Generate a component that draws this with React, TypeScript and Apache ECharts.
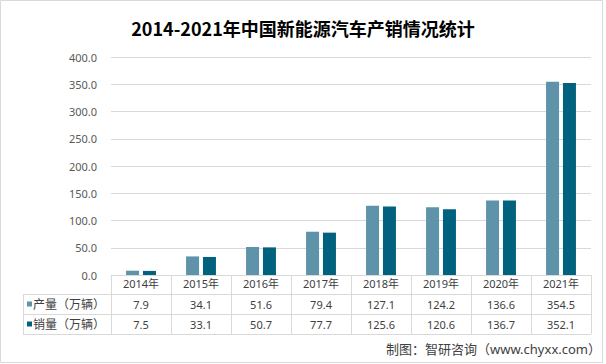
import React, { useEffect, useRef } from "react";
import * as echarts from "echarts";

const title = "2014-2021年中国新能源汽车产销情况统计";
const years = ["2014年", "2015年", "2016年", "2017年", "2018年", "2019年", "2020年", "2021年"];
const production = [7.9, 34.1, 51.6, 79.4, 127.1, 124.2, 136.6, 354.5];
const sales = [7.5, 33.1, 50.7, 77.7, 125.6, 120.6, 136.7, 352.1];
const seriesNames = ["产量（万辆）", "销量（万辆）"];
const colors = ["#5F93AA", "#02617F"];
const source = "制图：智研咨询（www.chyxx.com）";

const FONT = "'Noto Sans', 'Noto Sans CJK SC', sans-serif";
const GRID_L = 111;
const GRID_R = 591;
const GRID_T = 57;
const AXIS_Y = 275;
const ROW_Y = [294, 314, 334];
const TABLE_L = 23;
const LINE = "#d9d9d9";

export default function App() {
  const ref = useRef<HTMLDivElement>(null);
  useEffect(() => {
    if (!ref.current) return;
    const chart = echarts.init(ref.current, null, { renderer: "svg" });
    chart.setOption({
      animation: false,
      title: {
        text: title,
        left: "center",
        top: 14,
        textStyle: { fontFamily: "'Noto Sans CJK SC', sans-serif", fontSize: 18, fontWeight: "bold", color: "#000" },
      },
      grid: { left: GRID_L, right: 606 - GRID_R, top: GRID_T, bottom: 364 - AXIS_Y },
      xAxis: {
        type: "category",
        data: years,
        axisLine: { show: true, lineStyle: { color: LINE } },
        axisTick: { show: true, length: ROW_Y[2] - AXIS_Y, lineStyle: { color: LINE } },
        axisLabel: { color: "#404040", fontSize: 11, fontFamily: FONT, margin: 3 },
      },
      yAxis: {
        type: "value",
        min: 0,
        max: 400,
        interval: 50,
        axisLine: { show: false },
        axisTick: { show: false },
        splitLine: { lineStyle: { color: LINE } },
        axisLabel: {
          color: "#595959",
          fontSize: 11,
          fontFamily: FONT,
          margin: 14,
          formatter: (v: number) => v.toFixed(1),
        },
      },
      series: [
        { type: "bar", name: seriesNames[0], data: production, barWidth: 13, barGap: "30%", itemStyle: { color: colors[0] } },
        { type: "bar", name: seriesNames[1], data: sales, barWidth: 13, barGap: "30%", itemStyle: { color: colors[1] } },
      ],
    });

    const rows = [production, sales];
    const g: any[] = [];
    g.push({ type: "rect", shape: { x: 0.5, y: 0.5, width: 602, height: 362 }, style: { fill: "none", stroke: LINE, lineWidth: 1 }, silent: true });
    ROW_Y.forEach((y) => {
      g.push({ type: "line", shape: { x1: TABLE_L, y1: y + 0.5, x2: GRID_R, y2: y + 0.5 }, style: { stroke: LINE, lineWidth: 1 } });
    });
    g.push({ type: "line", shape: { x1: TABLE_L + 0.5, y1: ROW_Y[0], x2: TABLE_L + 0.5, y2: ROW_Y[2] }, style: { stroke: LINE, lineWidth: 1 } });
    rows.forEach((vals, r) => {
      const cy = (ROW_Y[r] + ROW_Y[r + 1]) / 2 + 0.5;
      g.push({ type: "rect", shape: { x: 27, y: cy - 3, width: 5, height: 5 }, style: { fill: colors[r] } });
      g.push({
        type: "text",
        x: 33,
        y: cy,
        style: { text: seriesNames[r], fill: "#404040", fontSize: 12, fontFamily: FONT, verticalAlign: "middle", align: "left" },
      });
      vals.forEach((v, i) => {
        const px = chart.convertToPixel({ xAxisIndex: 0 }, years[i]) as number;
        g.push({
          type: "text",
          x: px,
          y: cy,
          style: { text: v.toFixed(1), fill: "#404040", fontSize: 11, fontFamily: FONT, align: "center", verticalAlign: "middle" },
        });
      });
    });
    g.push({
      type: "text",
      right: 5,
      top: 342,
      style: { text: source, fill: "#404040", fontSize: 13, fontFamily: FONT },
    });
    chart.setOption({ graphic: g });
    return () => chart.dispose();
  }, []);
  return <div ref={ref} style={{ position: "fixed", left: 0, top: 0, width: 606, height: 364, background: "#fff" }} />;
}
